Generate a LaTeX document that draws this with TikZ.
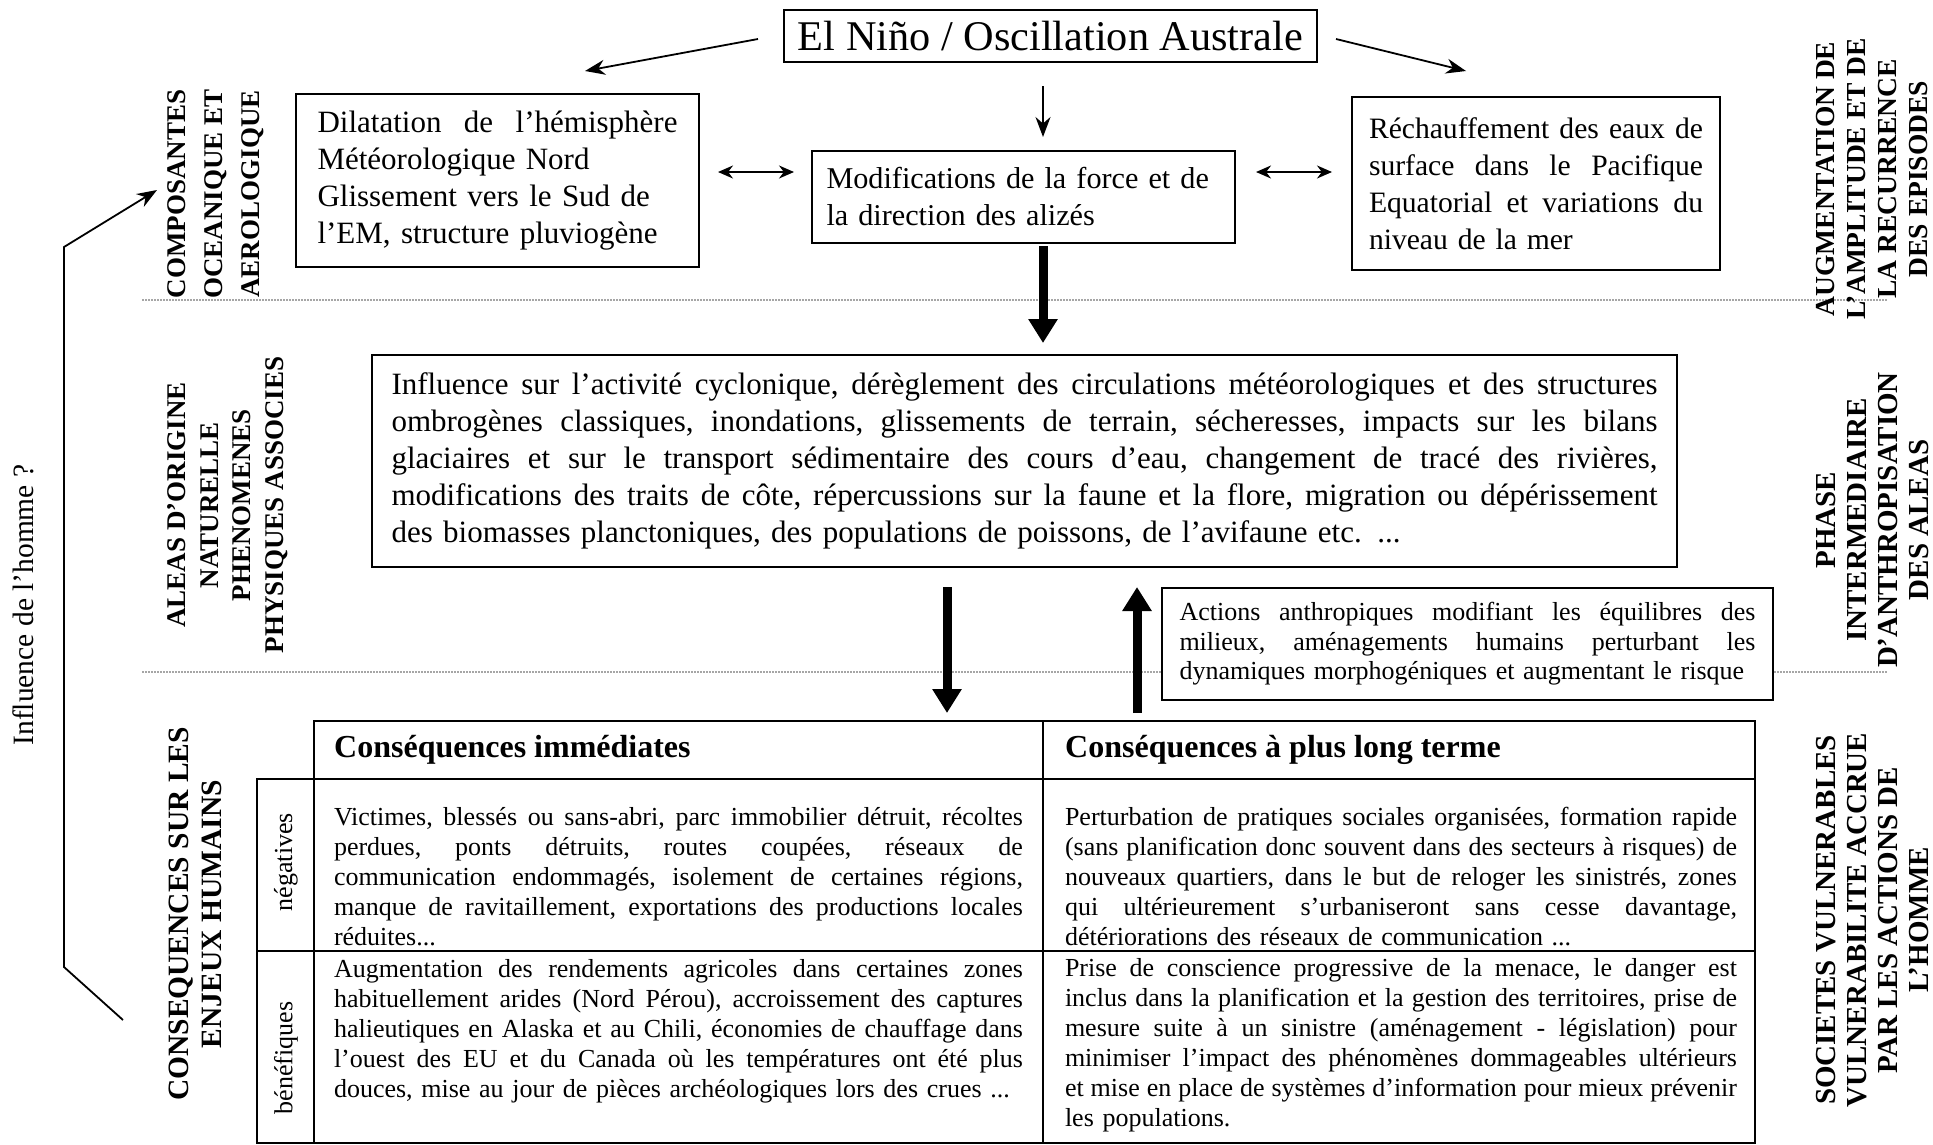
\documentclass[tikz,border=0pt]{standalone}
\usepackage{fontspec}
\setmainfont{Liberation Serif}
\usetikzlibrary{arrows.meta}
\newcommand\jline[1]{\makebox[\hsize][s]{\frenchspacing\spaceskip=.25em plus 3em minus .1em\relax #1}}
\newcommand\ftop{\fontsize{31}{37}\selectfont}
\newcommand\ftab{\fontsize{26}{30}\selectfont}
\tikzset{
  box/.style={draw, line width=1.8pt, fill=white, inner sep=0pt},
  cell/.style={draw, line width=1.8pt, inner sep=0pt},
  txt/.style={inner sep=0pt, align=left},
  thinarrow/.style={line width=1.8pt, -{Stealth[length=20pt,width=15pt]}},
  dblarrow/.style={line width=1.8pt, {Stealth[length=15pt,width=13pt]}-{Stealth[length=15pt,width=13pt]}},
  fatarrow/.style={line width=9pt, -{Triangle[length=24pt,width=28pt]}},
  sepline/.style={gray!70, line width=1.2pt, dash pattern=on 1.5pt off 1.5pt},
  lab/.style={rotate=90, align=center, inner sep=0pt},
}
\begin{document}
\begin{tikzpicture}[x=1pt,y=-1pt]
\useasboundingbox (0,0) rectangle (1933,1144);
\fill[white] (0,0) rectangle (1933,1144);

% separators
\coordinate (s1a) at (142,300); \coordinate (s1b) at (1888,300);
\coordinate (s2a) at (142,672); \coordinate (s2b) at (1888,672);
\draw[sepline] (s1a) -- (s1b);
\draw[sepline] (s2a) -- (s2b);

% top
\node[box, minimum width=533pt, minimum height=52pt, font=\fontsize{42.3}{46}\selectfont] (enso) at (1050.5,36) {El Niño / Oscillation Australe};

\node[box, minimum width=403pt, minimum height=173pt, text width=360pt, align=left, font=\ftop] (dil) at (497.5,180.5)
 {\jline{Dilatation de l’hémisphère}\\Météorologique Nord\\Glissement vers le Sud de\\l’EM, structure pluviogène};

\node[box, minimum width=423pt, minimum height=92pt, text width=394pt, align=left, font=\fontsize{30.2}{37}\selectfont] (mod) at (1023.5,197)
 {Modifications de la force et de\\la direction des alizés};

\node[box, minimum width=368pt, minimum height=173pt, text width=334pt, align=left, font=\fontsize{29.6}{37}\selectfont] (rech) at (1536,183.5)
 {\jline{Réchauffement des eaux de}\\\jline{surface dans le Pacifique}\\\jline{Equatorial et variations du}\\niveau de la mer};

\coordinate (la) at (758,39); \coordinate (lt) at (585,71);
\coordinate (ra) at (1336,39); \coordinate (rt) at (1466,71);
\coordinate (da) at (1043,86); \coordinate (dt) at (1043,137);
\draw[thinarrow] (la) -- (lt);
\draw[thinarrow] (ra) -- (rt);
\draw[thinarrow] (da) -- (dt);
\coordinate (d1a) at (718,172); \coordinate (d1b) at (794,172);
\coordinate (d2a) at (1256,172); \coordinate (d2b) at (1332,172);
\draw[dblarrow] (d1a) -- (d1b);
\draw[dblarrow] (d2a) -- (d2b);

\coordinate (f1a) at (1043,246); \coordinate (f1b) at (1043,343);
\draw[fatarrow] (f1a) -- (f1b);

% middle
\node[box, minimum width=1305pt, minimum height=212pt, text width=1266pt, align=left, font=\ftop] (infl) at (1024.5,461)
 {\jline{Influence sur l’activité cyclonique, dérèglement des circulations météorologiques et des structures}\\
  \jline{ombrogènes classiques, inondations, glissements de terrain, sécheresses, impacts sur les bilans}\\
  \jline{glaciaires et sur le transport sédimentaire des cours d’eau, changement de tracé des rivières,}\\
  \jline{modifications des traits de côte, répercussions sur la faune et la flore, migration ou dépérissement}\\
  des biomasses planctoniques, des populations de poissons, de l’avifaune etc. ...};

\node[box, minimum width=611pt, minimum height=112pt, text width=576pt, align=left, font=\fontsize{26}{29.5}\selectfont] (act) at (1467.5,644)
 {\jline{Actions anthropiques modifiant les équilibres des}\\\jline{milieux, aménagements humains perturbant les}\\dynamiques morphogéniques et augmentant le risque};

\coordinate (f2a) at (947,587); \coordinate (f2b) at (947,713);
\coordinate (f3a) at (1137,713); \coordinate (f3b) at (1137,587);
\draw[fatarrow] (f2a) -- (f2b);
\draw[fatarrow] (f3a) -- (f3b);

% table
\node[cell, minimum width=729pt, minimum height=58pt] (h1) at (678.5,750) {};
\node[cell, minimum width=712pt, minimum height=58pt] (h2) at (1399,750) {};
\node[cell, minimum width=57pt, minimum height=172pt] (l1) at (285.5,865) {};
\node[cell, minimum width=57pt, minimum height=192pt] (l2) at (285.5,1047) {};
\node[cell, minimum width=729pt, minimum height=172pt] (c11) at (678.5,865) {};
\node[cell, minimum width=712pt, minimum height=172pt] (c12) at (1399,865) {};
\node[cell, minimum width=729pt, minimum height=192pt] (c21) at (678.5,1047) {};
\node[cell, minimum width=712pt, minimum height=192pt] (c22) at (1399,1047) {};

\node[txt, anchor=west, font=\fontsize{32}{37}\selectfont\bfseries] (h1t) at (334,750) {Conséquences immédiates};
\node[txt, anchor=west, font=\fontsize{32}{37}\selectfont\bfseries] (h2t) at (1065,750) {Conséquences à plus long terme};
\node[rotate=90, inner sep=0pt, font=\fontsize{26}{30}\selectfont] (l1t) at (286,862) {négatives};
\node[rotate=90, inner sep=0pt, font=\fontsize{26}{30}\selectfont] (l2t) at (286,1058) {bénéfiques};

\node[txt, text width=689pt, font=\ftab] (c11t) at (678.5,877)
 {\jline{Victimes, blessés ou sans-abri, parc immobilier détruit, récoltes}\\
  \jline{perdues, ponts détruits, routes coupées, réseaux de}\\
  \jline{communication endommagés, isolement de certaines régions,}\\
  \jline{manque de ravitaillement, exportations des productions locales}\\
  réduites...};
\node[txt, text width=689pt, font=\ftab] (c21t) at (678.5,1031)
 {\jline{Augmentation des rendements agricoles dans certaines zones}\\
  \jline{habituellement arides (Nord Pérou), accroissement des captures}\\
  \jline{halieutiques en Alaska et au Chili, économies de chauffage dans}\\
  \jline{l’ouest des EU et du Canada où les températures ont été plus}\\
  douces, mise au jour de pièces archéologiques lors des crues ...};
\node[txt, text width=672pt, font=\ftab] (c12t) at (1401,877)
 {\jline{Perturbation de pratiques sociales organisées, formation rapide}\\
  \jline{(sans planification donc souvent dans des secteurs à risques) de}\\
  \jline{nouveaux quartiers, dans le but de reloger les sinistrés, zones}\\
  \jline{qui ultérieurement s’urbaniseront sans cesse davantage,}\\
  détériorations des réseaux de communication ...};
\node[txt, text width=672pt, font=\ftab] (c22t) at (1401,1045)
 {\jline{Prise de conscience progressive de la menace, le danger est}\\
  \jline{inclus dans la planification et la gestion des territoires, prise de}\\
  \jline{mesure suite à un sinistre (aménagement - législation) pour}\\
  \jline{minimiser l’impact des phénomènes dommageables ultérieurs}\\
  \jline{et mise en place de systèmes d’information pour mieux prévenir}\\
  les populations.};

% side labels
\node[lab, font=\fontsize{27}{37}\selectfont\bfseries] (comp) at (216,194) {COMPOSANTES\\OCEANIQUE ET\\AEROLOGIQUE};
\node[lab, font=\fontsize{27}{32.5}\selectfont\bfseries] (alea) at (227.5,505) {ALEAS D’ORIGINE\\NATURELLE\\PHENOMENES\\PHYSIQUES ASSOCIES};
\node[lab, font=\fontsize{29.5}{33}\selectfont\bfseries] (cons) at (195.5,914) {CONSEQUENCES SUR LES\\ENJEUX HUMAINS};
\node[lab, font=\fontsize{27.5}{31}\selectfont\bfseries] (augm) at (1872,179) {AUGMENTATION DE\\L’AMPLITUDE ET DE\\LA RECURRENCE\\DES EPISODES};
\node[lab, font=\fontsize{29}{31}\selectfont\bfseries] (phase) at (1873,520) {PHASE\\INTERMEDIAIRE\\D’ANTHROPISATION\\DES ALEAS};
\node[lab, font=\fontsize{29}{31}\selectfont\bfseries] (soc) at (1873,920) {SOCIETES VULNERABLES\\VULNERABILITE ACCRUE\\PAR LES ACTIONS DE\\L’HOMME};

% influence bracket
\node[rotate=90, inner sep=0pt, font=\fontsize{29.5}{30}\selectfont] (homme) at (23,605) {Influence de l’homme ?};
\coordinate (b0) at (123,1020); \coordinate (b1) at (64,967);
\coordinate (b2) at (64,247); \coordinate (b3) at (157,190);
\draw[thinarrow] (b0) -- (b1) -- (b2) -- (b3);
\end{tikzpicture}
\end{document}
